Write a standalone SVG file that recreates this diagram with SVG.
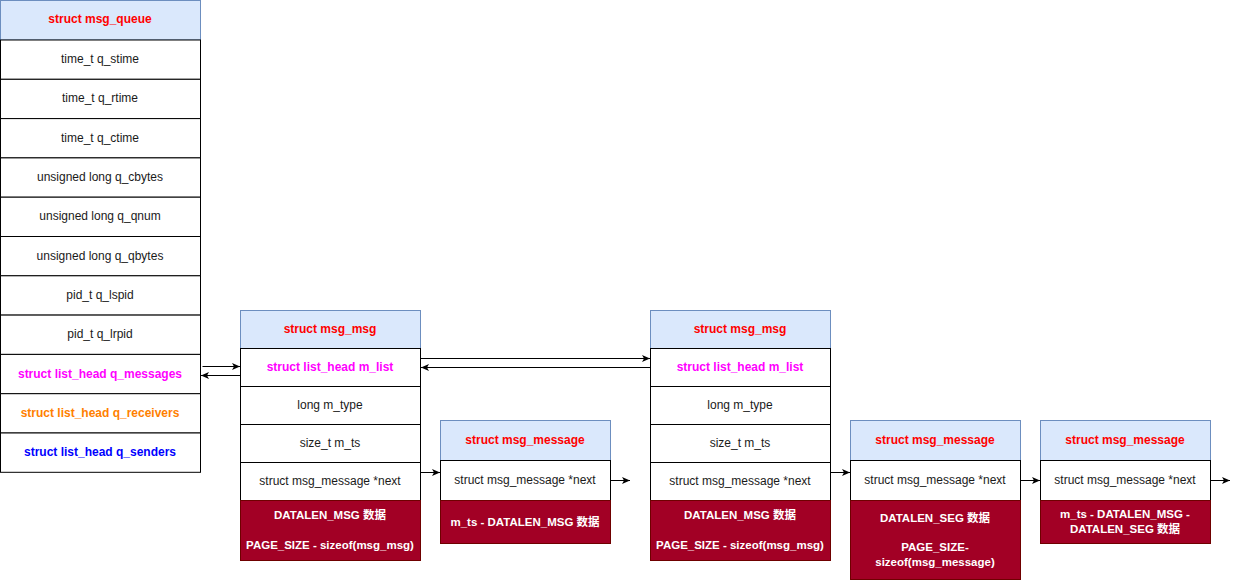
<svg xmlns="http://www.w3.org/2000/svg" width="1239" height="581" viewBox="0 0 1239 581">
<style>
text{font-family:"Liberation Sans",Arial,"Noto Sans CJK SC",sans-serif;font-size:12px;text-anchor:middle;fill:#1a1a1a}
.hd{fill:#dae8fc;stroke:#6c8ebf;stroke-width:1}
.row{fill:#fff;stroke:#000;stroke-width:1}
.dat{fill:#a20025;stroke:#6f0000;stroke-width:1}
.b{font-weight:bold}
.red{fill:#ff0000}
.mag{fill:#ff00ff}
.org{fill:#ff8000}
.blu{fill:#0000ff}
.w{fill:#fff;font-weight:bold;font-size:11.5px}
.c{stroke:#000;stroke-width:1;fill:none;marker-end:url(#arr)}
</style>
<defs>
<marker id="arr" viewBox="0 0 10 8" refX="9" refY="4" markerWidth="10" markerHeight="8" markerUnits="userSpaceOnUse" orient="auto"><path d="M1,0.5 L9,4 L1,7.5 L3,4 Z" fill="#000"/></marker>
</defs>
<rect width="1239" height="581" fill="#fff"/>
<g id="msg_queue">
<rect class="hd" x="0.5" y="0.5" width="200" height="39.5"/>
<text class="b red" x="100" y="23">struct msg_queue</text>
<rect class="row" x="0.5" y="40" width="200" height="39.3"/>
<text x="100" y="62.6">time_t q_stime</text>
<rect class="row" x="0.5" y="79.3" width="200" height="39.3"/>
<text x="100" y="102">time_t q_rtime</text>
<rect class="row" x="0.5" y="118.6" width="200" height="39.3"/>
<text x="100" y="141.7">time_t q_ctime</text>
<rect class="row" x="0.5" y="157.9" width="200" height="39.3"/>
<text x="100" y="181">unsigned long q_cbytes</text>
<rect class="row" x="0.5" y="197.2" width="200" height="39.3"/>
<text x="100" y="220.3">unsigned long q_qnum</text>
<rect class="row" x="0.5" y="236.5" width="200" height="39.3"/>
<text x="100" y="259.6">unsigned long q_qbytes</text>
<rect class="row" x="0.5" y="275.8" width="200" height="39.3"/>
<text x="100" y="298.9">pid_t q_lspid</text>
<rect class="row" x="0.5" y="315.1" width="200" height="39.3"/>
<text x="100" y="338.2">pid_t q_lrpid</text>
<rect class="row" x="0.5" y="354.4" width="200" height="39.3"/>
<text class="b mag" x="100" y="377.5">struct list_head q_messages</text>
<rect class="row" x="0.5" y="393.7" width="200" height="39.3"/>
<text class="b org" x="100" y="416.8">struct list_head q_receivers</text>
<rect class="row" x="0.5" y="433" width="200" height="39.3"/>
<text class="b blu" x="100" y="456.1">struct list_head q_senders</text>
</g>
<g id="msg_msg_1">
<rect class="hd" x="240.5" y="310.5" width="180" height="38"/>
<text class="b red" x="330" y="332.5">struct msg_msg</text>
<rect class="row" x="240.5" y="348.5" width="180" height="38"/>
<text class="b mag" x="330" y="370.5">struct list_head m_list</text>
<rect class="row" x="240.5" y="386.5" width="180" height="38"/>
<text x="330" y="408.5">long m_type</text>
<rect class="row" x="240.5" y="424.5" width="180" height="38"/>
<text x="330" y="446.5">size_t m_ts</text>
<rect class="row" x="240.5" y="462.5" width="180" height="38"/>
<text x="330" y="484.5">struct msg_message *next</text>
<rect class="dat" x="240.5" y="500.5" width="180" height="60"/>
<text class="w" x="330" y="519">DATALEN_MSG 数据</text>
<text class="w" x="330" y="548.5">PAGE_SIZE - sizeof(msg_msg)</text>
</g>
<g id="msg_message_1">
<rect class="hd" x="440.5" y="420.5" width="170" height="40"/>
<text class="b red" x="525" y="443.5">struct msg_message</text>
<rect class="row" x="440.5" y="460.5" width="170" height="40"/>
<text x="525" y="483.5">struct msg_message *next</text>
<rect class="dat" x="440.5" y="500.5" width="170" height="43"/>
<text class="w" x="525" y="525.5">m_ts - DATALEN_MSG 数据</text>
</g>
<g id="msg_msg_2">
<rect class="hd" x="650.5" y="310.5" width="180" height="38"/>
<text class="b red" x="740" y="332.5">struct msg_msg</text>
<rect class="row" x="650.5" y="348.5" width="180" height="38"/>
<text class="b mag" x="740" y="370.5">struct list_head m_list</text>
<rect class="row" x="650.5" y="386.5" width="180" height="38"/>
<text x="740" y="408.5">long m_type</text>
<rect class="row" x="650.5" y="424.5" width="180" height="38"/>
<text x="740" y="446.5">size_t m_ts</text>
<rect class="row" x="650.5" y="462.5" width="180" height="38"/>
<text x="740" y="484.5">struct msg_message *next</text>
<rect class="dat" x="650.5" y="500.5" width="180" height="60"/>
<text class="w" x="740" y="519">DATALEN_MSG 数据</text>
<text class="w" x="740" y="548.5">PAGE_SIZE - sizeof(msg_msg)</text>
</g>
<g id="msg_message_2">
<rect class="hd" x="850.5" y="420.5" width="170" height="40"/>
<text class="b red" x="935" y="443.5">struct msg_message</text>
<rect class="row" x="850.5" y="460.5" width="170" height="40"/>
<text x="935" y="483.5">struct msg_message *next</text>
<rect class="dat" x="850.5" y="500.5" width="170" height="79"/>
<text class="w" x="935" y="522">DATALEN_SEG 数据</text>
<text class="w" x="935" y="550.5">PAGE_SIZE-</text>
<text class="w" x="935" y="565.5">sizeof(msg_message)</text>
</g>
<g id="msg_message_3">
<rect class="hd" x="1040.5" y="420.5" width="170" height="40"/>
<text class="b red" x="1125" y="443.5">struct msg_message</text>
<rect class="row" x="1040.5" y="460.5" width="170" height="40"/>
<text x="1125" y="483.5">struct msg_message *next</text>
<rect class="dat" x="1040.5" y="500.5" width="170" height="43"/>
<text class="w" x="1125" y="518">m_ts - DATALEN_MSG -</text>
<text class="w" x="1125" y="533">DATALEN_SEG 数据</text>
</g>
<g id="connectors">
<path class="c" d="M202.5,366.5 L240,366.5"/>
<path class="c" d="M240.5,375.5 L201,375.5"/>
<path class="c" d="M421,358.5 L650,358.5"/>
<path class="c" d="M650.5,367.5 L421,367.5"/>
<path class="c" d="M420.5,472.5 L440,472.5"/>
<path class="c" d="M610.5,480.5 L630,480.5"/>
<path class="c" d="M830.5,472.5 L850,472.5"/>
<path class="c" d="M1020.5,480.5 L1040,480.5"/>
<path class="c" d="M1210.5,480.5 L1230,480.5"/>
</g>
</svg>
